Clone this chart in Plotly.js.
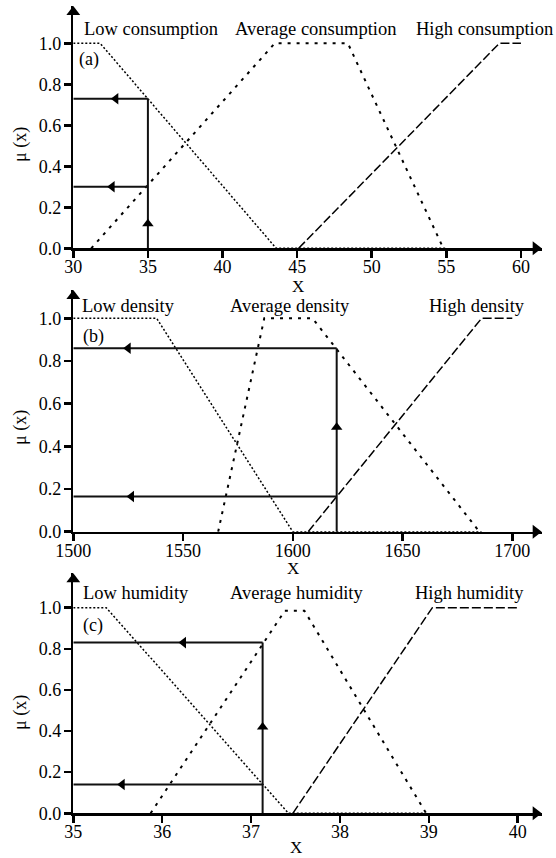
<!DOCTYPE html>
<html>
<head>
<meta charset="utf-8">
<script src="https://cdn.plot.ly/plotly-3.0.1.min.js"></script>
<style>html,body{margin:0;padding:0;background:#fff;}#chart{width:556px;height:858px;}</style>
</head>
<body>
<div id="chart"></div>
<script>
// ---------- Data ----------
// (a) consumption
const consLowX  = [30, 31.8, 43.6, 55];
const consLowY  = [1, 1, 0, 0];
const consAvgX  = [31.2, 43.5, 48.4, 54.8];
const consAvgY  = [0, 1, 1, 0];
const consHighX = [45.1, 58.55, 60];
const consHighY = [0, 1, 1];
const consInput = 35;
const consMu    = [0.73, 0.30];
const consArrowHX = [32.85, 32.6];
const consArrowUpY = 0.12;
const consLabels = ["Low consumption", "Average consumption", "High consumption"];

// (b) density
const densLowX  = [1500, 1538, 1600, 1686];
const densLowY  = [1, 1, 0, 0];
const densAvgX  = [1566, 1587, 1609, 1685];
const densAvgY  = [0, 1, 1, 0];
const densHighX = [1607, 1686, 1700];
const densHighY = [0, 1, 1];
const densInput = 1620;
const densMu    = [0.86, 0.165];
const densArrowHX = [1525, 1526.5];
const densArrowUpY = 0.49;
const densLabels = ["Low density", "Average density", "High density"];

// (c) humidity
const humLowX  = [35, 35.37, 37.42, 38.97];
const humLowY  = [1, 1, 0, 0];
const humAvgX  = [35.87, 37.38, 37.6, 38.97];
const humAvgY  = [0, 0.985, 0.985, 0];
const humHighX = [37.47, 39.04, 40];
const humHighY = [0, 1, 1];
const humInput = 37.13;
const humMu    = [0.83, 0.14];
const humArrowHX = [36.24, 35.55];
const humArrowUpY = 0.42;
const humLabels = ["Low humidity", "Average humidity", "High humidity"];

const panelTags = ["(a)", "(b)", "(c)"];

// ---------- Layout geometry (pixels) ----------
const W = 556, H = 858;
const FONT = 'Liberation Serif, Times New Roman, serif';
const px = v => v / W;
const py = v => 1 - v / H;

const panels = [
  {low:[consLowX,consLowY], avg:[consAvgX,consAvgY], high:[consHighX,consHighY],
   input:consInput, mu:consMu, ahx:consArrowHX, auy:consArrowUpY, labels:consLabels,
   xr:[30, 61.39], yr:[0, 1.182], dtick:5, yTop:6, yBot:248.3,
   labPx:[150.8, 315.5, 484], labPy:29.3, tagPx:[88.7, 60], xTitle:[298, 287], yTitle:[20, 145]},
  {low:[densLowX,densLowY], avg:[densAvgX,densAvgY], high:[densHighX,densHighY],
   input:densInput, mu:densMu, ahx:densArrowHX, auy:densArrowUpY, labels:densLabels,
   xr:[1500, 1713.4], yr:[0, 1.133], dtick:50, yTop:290, yBot:531.7,
   labPx:[128.7, 289.7, 476.7], labPy:305.7, tagPx:[93.7, 336.7], xTitle:[293, 568], yTitle:[20, 428]},
  {low:[humLowX,humLowY], avg:[humAvgX,humAvgY], high:[humHighX,humHighY],
   input:humInput, mu:humMu, ahx:humArrowHX, auy:humArrowUpY, labels:humLabels,
   xr:[35, 40.27], yr:[0, 1.167], dtick:1, yTop:573.3, yBot:813.3,
   labPx:[135.8, 296.5, 469.8], labPy:593.3, tagPx:[93.3, 625], xTitle:[296, 847], yTitle:[20, 713]}
];
const xLeft = 73.3, xRight = 541.7;

const traces = [];
const layout = {
  width: W, height: H,
  margin: {l:0, r:0, t:0, b:0},
  paper_bgcolor: '#fff', plot_bgcolor: 'rgba(0,0,0,0)',
  showlegend: false,
  font: {family: FONT, size: 18, color: '#000'},
  annotations: []
};

panels.forEach((p, i) => {
  const n = i === 0 ? '' : String(i + 1);
  const xa = 'x' + n, ya = 'y' + n;
  const axStyle = {
    showline: true, linewidth: 2.5, linecolor: '#000',
    ticks: 'outside', ticklen: 7, tickwidth: 2.5, tickcolor: '#000',
    showgrid: false, zeroline: false, fixedrange: true,
    tickfont: {family: FONT, size: 18, color: '#000'}
  };
  layout['xaxis' + n] = Object.assign({}, axStyle, {
    domain: [px(xLeft), px(xRight)], range: p.xr, anchor: ya,
    tick0: p.xr[0], dtick: p.dtick, ticklabelstandoff: -6
  });
  layout['yaxis' + n] = Object.assign({}, axStyle, {
    domain: [py(p.yBot), py(p.yTop)], range: p.yr, anchor: xa,
    tick0: 0, dtick: 0.2, tickformat: '.1f', ticklabelstandoff: -1
  });

  const base = {type: 'scatter', mode: 'lines', xaxis: xa, yaxis: ya, hoverinfo: 'skip'};
  traces.push(Object.assign({}, base, {x: p.low[0], y: p.low[1],
    line: {color: '#000', width: 1.5, dash: '2px,2px'}}));
  traces.push(Object.assign({}, base, {x: p.avg[0], y: p.avg[1],
    line: {color: '#000', width: 2, dash: '3px,6px'}}));
  traces.push(Object.assign({}, base, {x: p.high[0], y: p.high[1],
    line: {color: '#000', width: 1.5, dash: '9px,3px'}}));

  // inference lines
  const x0 = p.xr[0];
  const muMax = Math.max.apply(null, p.mu);
  const lx = [p.input, p.input], ly = [0, muMax];
  p.mu.forEach(m => { lx.push(null, p.input, x0); ly.push(null, m, m); });
  traces.push(Object.assign({}, base, {x: lx, y: ly, line: {color: '#111', width: 2}}));

  // arrowheads on inference lines
  traces.push(Object.assign({}, base, {mode: 'markers', x: p.ahx, y: p.mu, cliponaxis: false,
    marker: {symbol: 'triangle-left', size: 10, color: '#000'}}));
  traces.push(Object.assign({}, base, {mode: 'markers', x: [p.input], y: [p.auy], cliponaxis: false,
    marker: {symbol: 'triangle-up', size: 10, color: '#000'}}));

  // axis-end arrowheads
  const pxPerX = (xRight - xLeft) / (p.xr[1] - p.xr[0]);
  const pxPerY = (p.yBot - p.yTop) / (p.yr[1] - p.yr[0]);
  traces.push(Object.assign({}, base, {mode: 'markers', x: [p.xr[1] - 6 / pxPerX], y: [0], cliponaxis: false,
    marker: {symbol: 'triangle-right', size: 12, color: '#000'}}));
  traces.push(Object.assign({}, base, {mode: 'markers', x: [x0], y: [p.yr[1] - 6 / pxPerY], cliponaxis: false,
    marker: {symbol: 'triangle-up', size: 12, color: '#000'}}));

  // text
  p.labels.forEach((t, k) => {
    layout.annotations.push({text: t, xref: 'paper', yref: 'paper', x: px(p.labPx[k]), y: py(p.labPy),
      xanchor: 'center', yanchor: 'middle', showarrow: false, font: {family: FONT, size: 18.5, color: '#000'}});
  });
  layout.annotations.push({text: panelTags[i], xref: 'paper', yref: 'paper', x: px(p.tagPx[0]), y: py(p.tagPx[1]),
    xanchor: 'center', yanchor: 'middle', showarrow: false, font: {family: FONT, size: 18, color: '#000'}});
  layout.annotations.push({text: 'X', xref: 'paper', yref: 'paper', x: px(p.xTitle[0]), y: py(p.xTitle[1]),
    xanchor: 'center', yanchor: 'middle', showarrow: false, font: {family: FONT, size: 17, color: '#000'}});
  layout.annotations.push({text: 'μ (x)', xref: 'paper', yref: 'paper', x: px(p.yTitle[0]), y: py(p.yTitle[1]),
    xanchor: 'center', yanchor: 'middle', textangle: -90, showarrow: false, font: {family: FONT, size: 18, color: '#000'}});
});

Plotly.newPlot('chart', traces, layout, {displayModeBar: false, staticPlot: true});
</script>
</body>
</html>
